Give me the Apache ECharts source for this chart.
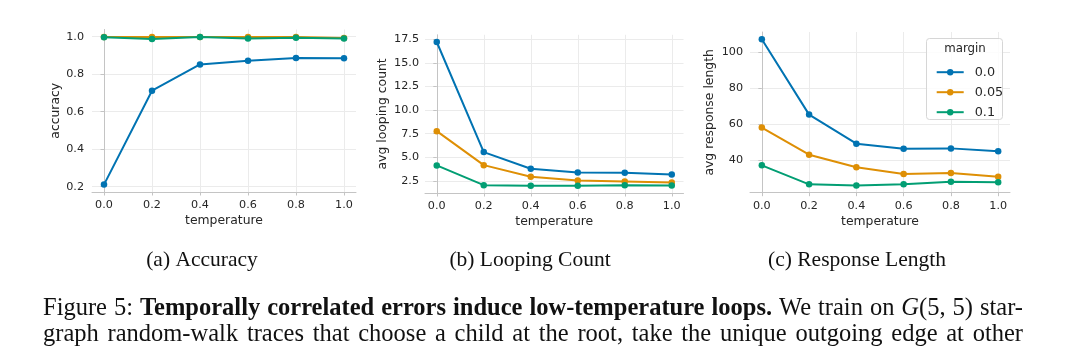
<!DOCTYPE html>
<html>
<head>
<meta charset="utf-8">
<script src="https://cdn.jsdelivr.net/npm/echarts@6/dist/echarts.min.js"></script>
<style>
html,body{margin:0;padding:0;background:#fff;}
#chart{width:1080px;height:361px;}
</style>
</head>
<body>
<div id="chart"></div>
<script>
// ---------- data ----------
const temperature = [0.0, 0.2, 0.4, 0.6, 0.8, 1.0];
const marginNames = ['0.0', '0.05', '0.1'];

const accuracy_m00  = [0.211, 0.712, 0.852, 0.872, 0.887, 0.885];
const accuracy_m005 = [0.999, 0.999, 0.999, 0.999, 0.999, 0.993];
const accuracy_m01  = [0.997, 0.988, 0.999, 0.991, 0.995, 0.991];

const looping_m00  = [17.2, 5.54, 3.77, 3.39, 3.35, 3.17];
const looping_m005 = [7.76, 4.16, 2.92, 2.54, 2.43, 2.33];
const looping_m01  = [4.13, 2.04, 1.97, 1.97, 2.04, 2.00];

const length_m00  = [107.0, 65.3, 49.2, 46.4, 46.6, 45.0];
const length_m005 = [58.1, 43.1, 36.1, 32.4, 33.0, 30.9];
const length_m01  = [37.2, 26.7, 26.1, 26.7, 28.1, 27.8];

const xTicks = [0.0, 0.2, 0.4, 0.6, 0.8, 1.0];
const accTicks = [0.2, 0.4, 0.6, 0.8, 1.0];
const loopTicks = [2.5, 5.0, 7.5, 10.0, 12.5, 15.0, 17.5];
const lenTicks = [40, 60, 80, 100];

const yNames = ['accuracy', 'avg looping count', 'avg response length'];
const xName = 'temperature';
const legendTitle = 'margin';
const subCaptions = ['(a) Accuracy', '(b) Looping Count', '(c) Response Length'];
const captionLines = [
  [['Figure 5: ', 'n'], ['Temporally correlated errors induce low-temperature loops.', 'b'], [' We train on ', 'n'], ['G', 'i'], ['(5, 5)', 'n'], [' star-', 'n']],
  [['graph random-walk traces that choose a child at the root, take the unique outgoing edge at other', 'n']]
];

// ---------- style ----------
const colors = ['#0173b2', '#de8f05', '#029e73'];
const textColor = '#262626';
const tickFont = 'DejaVu Sans';
const serif = 'Liberation Serif';

const grids = [
  {left: 92, top: 29.5, width: 264, height: 162.5},
  {left: 425,  top: 34.8, width: 258.5, height: 158.2},
  {left: 750,  top: 32,   width: 260,   height: 160.7}
];
const nameGaps = [30, 36, 34];
const yLabelMargins = [8, 6, 7];
const capCenters = [202, 530, 857];

function padRange(arrs) {
  const all = [].concat(...arrs);
  const mn = Math.min(...all), mx = Math.max(...all);
  const s = mx - mn;
  return [mn - 0.05 * s, mx + 0.05 * s];
}

const panels = [
  {series: [accuracy_m00, accuracy_m005, accuracy_m01], ticks: accTicks, fmt: v => v.toFixed(1)},
  {series: [looping_m00, looping_m005, looping_m01], ticks: loopTicks, fmt: v => v.toFixed(1)},
  {series: [length_m00, length_m005, length_m01], ticks: lenTicks, fmt: v => String(Math.round(v))}
];

const xAxes = [], yAxes = [], series = [];
panels.forEach((p, i) => {
  xAxes.push({
    type: 'value', gridIndex: i, min: -0.05, max: 1.05,
    name: xName, nameLocation: 'middle', nameGap: 23,
    nameTextStyle: {fontFamily: tickFont, fontSize: 12.4, color: textColor},
    axisLine: {show: true, lineStyle: {color: '#c4c4c4', width: 1}},
    axisTick: {show: true, length: 3.5, lineStyle: {color: '#c4c4c4'}, customValues: xTicks},
    axisLabel: {fontFamily: tickFont, fontSize: 11.2, color: textColor, margin: 8,
      customValues: xTicks, formatter: v => v.toFixed(1)},
    splitLine: {show: true, lineStyle: {color: '#ebebeb', width: 1}}
  });
  const r = padRange(p.series);
  yAxes.push({
    type: 'value', gridIndex: i, min: r[0], max: r[1],
    name: yNames[i], nameLocation: 'middle', nameGap: nameGaps[i], nameRotate: 90,
    nameTextStyle: {fontFamily: tickFont, fontSize: 12.4, color: textColor},
    axisLine: {show: true, lineStyle: {color: '#c4c4c4', width: 1}},
    axisTick: {show: true, length: 3.5, lineStyle: {color: '#c4c4c4'}, customValues: p.ticks},
    axisLabel: {fontFamily: tickFont, fontSize: 11.2, color: textColor, margin: yLabelMargins[i],
      customValues: p.ticks, formatter: p.fmt},
    splitLine: {show: true, lineStyle: {color: '#ebebeb', width: 1}}
  });
  p.series.forEach((vals, k) => {
    series.push({
      type: 'line', name: marginNames[k], xAxisIndex: i, yAxisIndex: i,
      data: temperature.map((t, j) => [t, vals[j]]),
      symbol: 'circle', symbolSize: 6.5, showSymbol: true,
      lineStyle: {color: colors[k], width: 2},
      itemStyle: {color: colors[k]},
      z: 3 + k, animation: false
    });
  });
});

// ---------- captions (justified) ----------
const graphics = [];
subCaptions.forEach((c, i) => {
  graphics.push({type: 'text', x: capCenters[i], y: 260.5,
    style: {text: c, font: '21.5px "' + serif + '"', fill: '#111', textAlign: 'center', textVerticalAlign: 'middle'}});
});

const capFs = 24.5;
const cv = document.createElement('canvas').getContext('2d');
const fontOf = s => (s === 'b' ? 'bold ' : s === 'i' ? 'italic ' : '') + capFs + 'px "' + serif + '"';
const lineLeft = 43, lineRight = 1023, lineYs = [308.3, 334.3];
captionLines.forEach((segs, li) => {
  const words = []; let cur = [];
  segs.forEach(([txt, st]) => {
    txt.split(' ').forEach((part, pi) => {
      if (pi > 0) { if (cur.length) words.push(cur); cur = []; }
      if (part) cur.push({text: part, st});
    });
  });
  if (cur.length) words.push(cur);
  let total = 0;
  words.forEach(w => w.forEach(pc => { cv.font = fontOf(pc.st); pc.w = cv.measureText(pc.text).width; total += pc.w; }));
  const avail = lineRight - lineLeft;
  const minGap = capFs * 0.2;
  let sx = 1;
  if (total + minGap * (words.length - 1) > avail) sx = avail / (total + minGap * (words.length - 1));
  const gap = (avail - total * sx) / (words.length - 1);
  let x = lineLeft;
  words.forEach(w => {
    w.forEach(pc => {
      graphics.push({type: 'text', x: x, y: lineYs[li], scaleX: sx,
        style: {text: pc.text, font: fontOf(pc.st), fill: '#111', textAlign: 'left', textVerticalAlign: 'middle'}});
      x += pc.w * sx;
    });
    x += gap;
  });
});

// legend box & title
graphics.push({type: 'rect', shape: {x: 926.5, y: 38.5, width: 76, height: 81, r: 3},
  style: {fill: 'rgba(255,255,255,0.85)', stroke: '#d6d6d6', lineWidth: 1}, z: 10});
graphics.push({type: 'text', x: 965, y: 49, z: 11,
  style: {text: legendTitle, font: '11.8px "' + tickFont + '"', fill: textColor, textAlign: 'center', textVerticalAlign: 'middle'}});

const chart = echarts.init(document.getElementById('chart'), null, {renderer: 'canvas'});
chart.setOption({
  animation: false,
  backgroundColor: '#ffffff',
  grid: grids.map(g => Object.assign({containLabel: false, outerBoundsMode: 'none'}, g)),
  xAxis: xAxes,
  yAxis: yAxes,
  series: series,
  legend: {
    data: marginNames, orient: 'vertical', left: 930.7, top: 60.2,
    itemWidth: 27, itemHeight: 8, itemGap: 6, z: 12,
    textStyle: {fontFamily: tickFont, fontSize: 12.8, lineHeight: 14, color: textColor, padding: [0, 0, 0, 6]},
    selectedMode: false
  },
  graphic: graphics
});
</script>
</body>
</html>
